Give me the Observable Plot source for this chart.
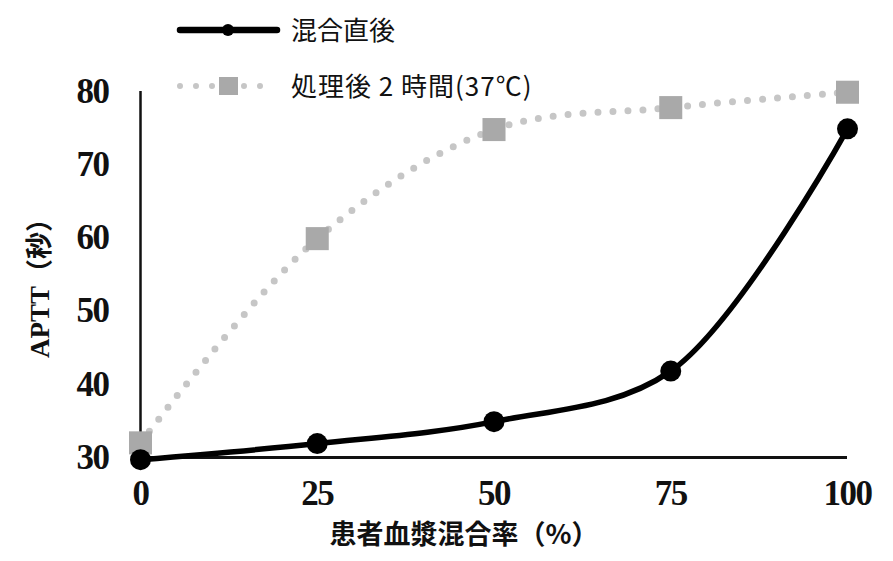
<!DOCTYPE html>
<html><head><meta charset="utf-8">
<script src="https://cdn.jsdelivr.net/npm/d3@7"></script>
<script src="https://cdn.jsdelivr.net/npm/@observablehq/plot@0.6"></script>
<style>
body{margin:0;background:#fff;}
#wrap{position:relative;width:893px;height:561px;overflow:hidden;}
.leg{position:absolute;left:0;top:0;}
.legtxt{position:absolute;font-family:"Noto Sans CJK JP","Noto Sans",sans-serif;font-size:26px;color:#111;white-space:nowrap;line-height:1;}
</style>
</head><body>
<div id="wrap"></div>
<script>
const mixRatio = [0, 25, 50, 75, 100];
const immediate = [29.7, 31.9, 34.9, 41.8, 74.9];
const after2h = [32.0, 59.9, 74.8, 77.8, 79.9];
const seriesNames = ["混合直後", "処理後 2 時間(37℃)"];
const xTicks = [0, 25, 50, 75, 100];
const yTicks = [30, 40, 50, 60, 70, 80];
const xTitle = "患者血漿混合率（%）";
const yTitle = "APTT（秒）";

const dataA = mixRatio.map((x, i) => ({x, y: immediate[i]}));
const dataB = mixRatio.map((x, i) => ({x, y: after2h[i]}));

const tickFamily = "'Liberation Serif', serif";

const chart = Plot.plot({
  width: 893, height: 561,
  marginLeft: 140, marginRight: 46, marginTop: 91, marginBottom: 104,
  x: {domain: [0, 100]},
  y: {domain: [30, 80]},
  style: {background: "white", overflow: "visible"},
  marks: [
    Plot.axisX({ticks: xTicks, tickSize: 0, tickPadding: 23, label: null, tickFormat: d => String(d),
      fontFamily: tickFamily, fontWeight: "bold", fontSize: 35, fill: "#111"}),
    Plot.axisY({ticks: yTicks, tickSize: 0, tickPadding: 32, label: null, tickFormat: d => String(d),
      fontFamily: tickFamily, fontWeight: "bold", fontSize: 35, fill: "#111"}),
    Plot.ruleX([0], {stroke: "#111", strokeWidth: 2.5}),
    Plot.ruleY([30], {stroke: "#111", strokeWidth: 3}),
    Plot.line(dataB, {x: "x", y: "y", curve: "catmull-rom", stroke: "#c6c6c6", strokeWidth: 7,
      strokeDasharray: "0,15", strokeLinecap: "round"}),
    Plot.dot(dataB, {x: "x", y: "y", symbol: "square", r: 13, fill: "#a9a9a9", stroke: "none"}),
    Plot.line(dataA, {x: "x", y: "y", curve: "catmull-rom", stroke: "#000", strokeWidth: 5.5}),
    Plot.dot(dataA, {x: "x", y: "y", r: 10.5, fill: "#000", stroke: "none"}),
    Plot.text([xTitle], {text: d => d, frameAnchor: "bottom", textAnchor: "middle", lineAnchor: "middle",
      dx: -30, dy: 78,
      fontFamily: "'Noto Sans CJK JP', sans-serif", fontWeight: "bold", fontSize: 27, fill: "#111"}),
    Plot.text([yTitle], {text: d => d, frameAnchor: "left", textAnchor: "middle", lineAnchor: "middle",
      rotate: -90, dx: -100, dy: 7,
      fontFamily: "'Liberation Serif', 'Noto Sans CJK JP', serif", fontWeight: "bold", fontSize: 27, fill: "#111"})
  ]
});
// enforce tick label size directly on the text nodes (condensed look)
const tickStrings = new Set([...xTicks, ...yTicks].map(String));
chart.querySelectorAll("text").forEach(t => {
  if (tickStrings.has(t.textContent.trim())) {
    t.style.fontSize = "35px";
    t.style.fontFamily = "'Liberation Serif', serif";
    t.style.fontWeight = "bold";
    t.style.letterSpacing = "-1.5px";
  }
});
const wrap = document.getElementById("wrap");
wrap.appendChild(chart);

// legend overlay
const ns = "http://www.w3.org/2000/svg";
const leg = document.createElementNS(ns, "svg");
leg.setAttribute("class", "leg");
leg.setAttribute("width", 290); leg.setAttribute("height", 110);
leg.innerHTML = `
  <line x1="180" y1="30" x2="277" y2="30" stroke="#000" stroke-width="6.5" stroke-linecap="round"/>
  <circle cx="228" cy="30" r="6" fill="#000"/>
  <line x1="180" y1="86" x2="275" y2="86" stroke="#c6c6c6" stroke-width="6" stroke-dasharray="0,16" stroke-linecap="round"/>
  <rect x="219" y="77" width="19" height="18" fill="#a9a9a9"/>`;
wrap.appendChild(leg);
const t1 = document.createElement("div");
t1.className = "legtxt"; t1.style.left = "291px"; t1.style.top = "16px"; t1.textContent = seriesNames[0];
const t2 = document.createElement("div");
t2.className = "legtxt"; t2.style.left = "291px"; t2.style.top = "72px"; t2.style.letterSpacing = "1px";
t2.textContent = seriesNames[1];
wrap.appendChild(t1); wrap.appendChild(t2);
</script>
</body></html>
